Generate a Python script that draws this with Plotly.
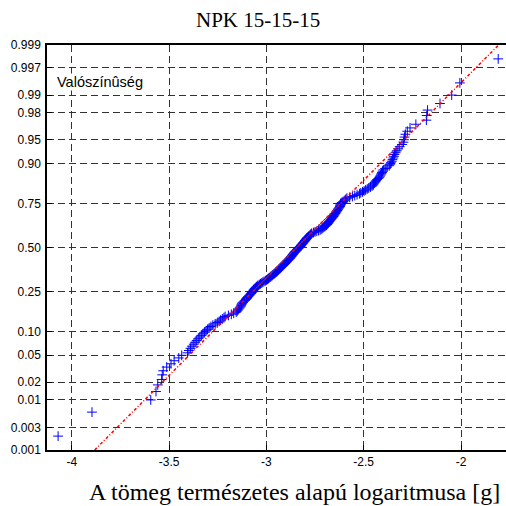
import plotly.graph_objects as go
from statistics import NormalDist

# Sorted data: natural log of mass [g]
log_mass = [
    -4.070, -3.896, -3.594, -3.567, -3.558, -3.538, -3.535, -3.530, -3.512, -3.490,
    -3.474, -3.450, -3.435, -3.405, -3.398, -3.390, -3.382, -3.373, -3.366, -3.358,
    -3.350, -3.342, -3.334, -3.326, -3.318, -3.310, -3.302, -3.294, -3.285, -3.275,
    -3.263, -3.252, -3.243, -3.235, -3.226, -3.218, -3.212, -3.195, -3.180, -3.168,
    -3.155, -3.150, -3.146, -3.142, -3.138, -3.134, -3.131, -3.129, -3.127, -3.125,
    -3.120, -3.115, -3.110, -3.105, -3.101, -3.098, -3.095, -3.090, -3.086, -3.082,
    -3.078, -3.075, -3.071, -3.068, -3.066, -3.063, -3.059, -3.055, -3.051, -3.047,
    -3.043, -3.036, -3.030, -3.024, -3.018, -3.012, -3.005, -2.999, -2.994, -2.989,
    -2.985, -2.980, -2.976, -2.971, -2.967, -2.962, -2.958, -2.953, -2.949, -2.945,
    -2.942, -2.938, -2.935, -2.931, -2.928, -2.924, -2.921, -2.917, -2.914, -2.910,
    -2.907, -2.903, -2.900, -2.896, -2.893, -2.889, -2.886, -2.882, -2.879, -2.877,
    -2.874, -2.871, -2.869, -2.866, -2.864, -2.861, -2.858, -2.856, -2.853, -2.850,
    -2.846, -2.843, -2.840, -2.836, -2.833,
    -2.829, -2.826, -2.823, -2.821, -2.818,
    -2.815, -2.812, -2.810, -2.807, -2.804, -2.802, -2.799, -2.796, -2.794, -2.791,
    -2.788, -2.784, -2.781, -2.777, -2.774, -2.770, -2.767, -2.758, -2.750, -2.741,
    -2.732, -2.724, -2.719, -2.714, -2.710, -2.705, -2.700, -2.695, -2.691, -2.688,
    -2.685, -2.682, -2.680, -2.677, -2.674, -2.671, -2.668, -2.665, -2.662, -2.659,
    -2.656, -2.654, -2.651, -2.649, -2.646, -2.644, -2.641, -2.639, -2.636, -2.633,
    -2.631, -2.628, -2.625, -2.622, -2.621, -2.620, -2.619, -2.618, -2.612, -2.606,
    -2.600, -2.595, -2.591, -2.586, -2.572, -2.558, -2.546, -2.534, -2.522, -2.515,
    -2.506, -2.498, -2.490, -2.482, -2.474, -2.465, -2.457, -2.451, -2.449, -2.445,
    -2.440, -2.436, -2.431, -2.425, -2.420, -2.416, -2.412, -2.409, -2.406, -2.403,
    -2.399, -2.390, -2.380, -2.369, -2.364, -2.360, -2.356, -2.352, -2.348, -2.345,
    -2.342, -2.336, -2.330, -2.324, -2.315, -2.303, -2.296, -2.293, -2.290, -2.286,
    -2.276, -2.262, -2.232, -2.178, -2.176, -2.172, -2.108, -2.048, -2.006, -1.809,
]

prob_ticks = [0.001, 0.003, 0.01, 0.02, 0.05, 0.10, 0.25, 0.50, 0.75, 0.90, 0.95, 0.98, 0.99, 0.997, 0.999]
prob_labels = ["0.001", "0.003", "0.01", "0.02", "0.05", "0.10", "0.25", "0.50",
               "0.75", "0.90", "0.95", "0.98", "0.99", "0.997", "0.999"]
x_ticks = [-4, -3.5, -3, -2.5, -2]
x_labels = ["-4", "-3.5", "-3", "-2.5", "-2"]

title_text = "NPK 15-15-15"
xlabel_text = "A tömeg természetes alapú logaritmusa [g]"
ylabel_text = "Valószínûség"

nd = NormalDist()
n = len(log_mass)
xs = sorted(log_mass)
zs = [nd.inv_cdf((i + 0.5) / n) for i in range(n)]

# reference line through quartiles (as normplot)
q1 = xs[int(round(0.25 * n - 0.5))]
q3 = xs[int(round(0.75 * n - 0.5))]
zq = nd.inv_cdf(0.75)
slope = (q3 - q1) / (2 * zq)
mid = (q1 + q3) / 2
zmin = nd.inv_cdf(prob_ticks[0])
zmax = nd.inv_cdf(prob_ticks[-1])

fig = go.Figure()
fig.add_trace(go.Scatter(
    x=xs, y=zs, mode="markers",
    marker=dict(symbol="cross-thin", size=7, line=dict(color="rgb(0,0,255)", width=1)),
    showlegend=False, hoverinfo="skip"))
fig.add_trace(go.Scatter(
    x=[mid + slope * zmin, mid + slope * zmax], y=[zmin, zmax], mode="lines",
    line=dict(color="rgb(255,0,0)", width=1.5, dash="3px,2px,1px,2px"),
    showlegend=False, hoverinfo="skip"))
fig.add_trace(go.Scatter(
    x=[q1, q3], y=[-zq, zq], mode="lines",
    line=dict(color="rgb(0,128,0)", width=1),
    showlegend=False, hoverinfo="skip"))

fig.update_layout(
    width=506, height=506,
    margin=dict(l=47, r=0, t=45, b=56),
    paper_bgcolor="white", plot_bgcolor="white",
    font=dict(family="Liberation Sans, Arial, sans-serif", size=12, color="black"),
    xaxis=dict(
        range=[-4.127, -1.769], tickvals=x_ticks, ticktext=x_labels,
        showgrid=True, gridcolor="rgb(50,50,50)", gridwidth=1, griddash="7px,4px",
        zeroline=False, showline=True, linecolor="black", linewidth=1.5, mirror=True,
        ticks="inside", ticklen=5, tickcolor="black",
        tickfont=dict(size=12),
    ),
    yaxis=dict(
        range=[zmin, zmax], tickvals=[nd.inv_cdf(p) for p in prob_ticks], ticktext=prob_labels,
        showgrid=True, gridcolor="rgb(50,50,50)", gridwidth=1, griddash="7px,4px",
        zeroline=False, showline=True, linecolor="black", linewidth=1.5,
        ticks="inside", ticklen=5, tickcolor="black",
        tickfont=dict(size=12), ticklabelstandoff=2,
    ),
    annotations=[
        dict(text=title_text, xref="paper", yref="paper", x=0.46, y=1.062,
             xanchor="center", yanchor="middle", showarrow=False,
             font=dict(family="Liberation Serif, Times New Roman, serif", size=21)),
        dict(text=xlabel_text, xref="paper", yref="paper", x=0.540, y=-0.104,
             xanchor="center", yanchor="middle", showarrow=False,
             font=dict(family="Liberation Serif, Times New Roman, serif", size=24)),
        dict(text=ylabel_text, xref="paper", yref="paper", x=0.020, y=0.909,
             xanchor="left", yanchor="middle", showarrow=False,
             bgcolor="white", borderpad=0,
             font=dict(family="Liberation Sans, Arial, sans-serif", size=14.5)),
    ],
)

fig.write_html("out.html")
